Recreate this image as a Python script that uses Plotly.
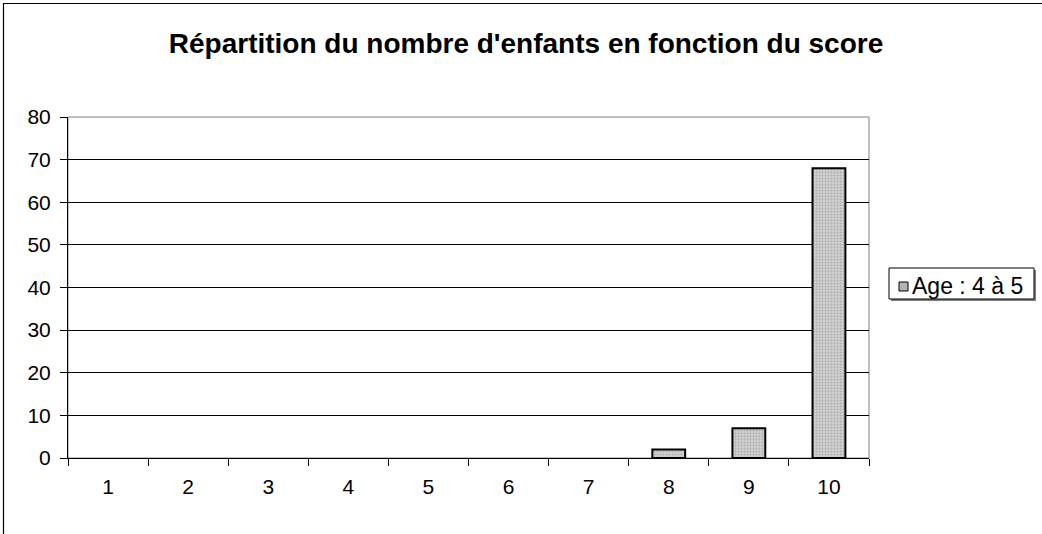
import plotly.graph_objects as go

categories = ["1", "2", "3", "4", "5", "6", "7", "8", "9", "10"]
values = [0, 0, 0, 0, 0, 0, 0, 2, 7, 68]
series_name = "Age : 4 à 5"
title_text = "Répartition du nombre d'enfants en fonction du score"

W, H = 1042, 534
L, R, T, B = 68, 869, 117, 458
pw, ph = R - L, B - T

def px(x):
    return (x - L) / pw

def py(y):
    return (B - y) / ph

font = "Liberation Sans, Arial, sans-serif"

fig = go.Figure()
fig.add_trace(go.Bar(
    x=categories, y=values, name=series_name,
    marker=dict(
        color="#c0c0c0",
        line=dict(color="black", width=[0 if v == 0 else 2 for v in values]),
        pattern=dict(shape=".", fgcolor="#8c8c8c", bgcolor="#d0d0d0", size=3, solidity=0.35),
    ),
    showlegend=False,
))

fig.update_layout(
    width=W, height=H,
    margin=dict(l=L, r=W - R, t=T, b=H - B, autoexpand=False),
    paper_bgcolor="white", plot_bgcolor="white",
    bargap=0.59,
    title=dict(text="<b>" + title_text + "</b>", x=526 / W, xanchor="center",
               y=1 - 43 / H, yanchor="middle",
               font=dict(family=font, size=28, color="black")),
    font=dict(family=font, size=21, color="black"),
    xaxis=dict(type="category", showgrid=False, ticks="outside", tickson="boundaries",
               ticklen=7, tickcolor="black", showline=True, linecolor="black", linewidth=1,
               tickfont=dict(size=21), ticklabelstandoff=10, zeroline=False, fixedrange=True),
    yaxis=dict(range=[0, 80], dtick=10, showgrid=True, gridcolor="black", gridwidth=1,
               ticks="outside", ticklen=7, tickcolor="black", showline=True,
               linecolor="black", linewidth=1, tickfont=dict(size=21), ticklabelstandoff=5,
               zeroline=False, fixedrange=True),
    shapes=[
        # plot area border (top/right)
        dict(type="rect", xref="paper", yref="paper", x0=0, x1=1, y0=0, y1=1,
             line=dict(color="#808080", width=1), layer="below"),
        # outer chart border: left and top edges
        dict(type="line", xref="paper", yref="paper", x0=px(3.5), x1=px(3.5), y0=py(3), y1=py(534),
             line=dict(color="black", width=1.2), layer="above"),
        dict(type="line", xref="paper", yref="paper", x0=px(3), x1=px(1042), y0=py(3.5), y1=py(3.5),
             line=dict(color="black", width=1.2), layer="above"),
        # legend shadow
        dict(type="rect", xref="paper", yref="paper", x0=px(891), x1=px(1036), y0=py(270), y1=py(301),
             fillcolor="#808080", line=dict(width=0), layer="above"),
        # legend box
        dict(type="rect", xref="paper", yref="paper", x0=px(889), x1=px(1034), y0=py(268), y1=py(299),
             fillcolor="white", line=dict(color="black", width=1), layer="above"),
        # legend symbol
        dict(type="rect", xref="paper", yref="paper", x0=px(899), x1=px(908), y0=py(282), y1=py(291),
             fillcolor="#b4b4b4", line=dict(color="black", width=1), layer="above"),
    ],
    annotations=[
        dict(text=series_name, xref="paper", yref="paper", x=px(910), y=py(286),
             xanchor="left", yanchor="middle", showarrow=False,
             font=dict(family=font, size=23, color="black")),
    ],
)

fig.write_html("out.html", config={"displayModeBar": False},
               post_script="document.body.style.margin='0';")
